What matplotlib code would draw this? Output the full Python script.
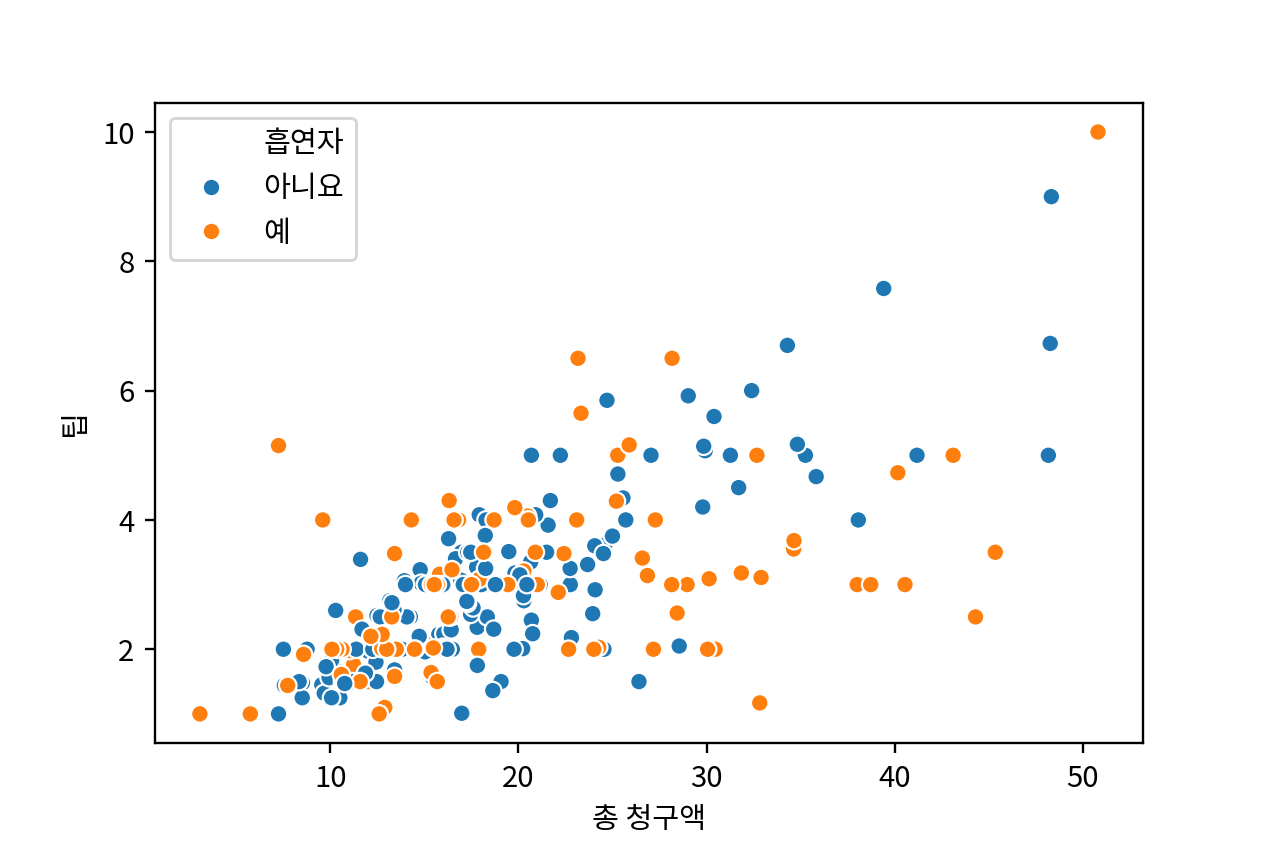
import matplotlib
matplotlib.use('Agg')
import matplotlib.pyplot as plt
from matplotlib.lines import Line2D

# tips data: total bill, tip, smoker (N = 아니요, Y = 예), in row order
total_bill = [
  16.99, 10.34, 21.01, 23.68, 24.59, 25.29, 8.77, 26.88, 15.04, 14.78,
  10.27, 35.26, 15.42, 18.43, 14.83, 21.58, 10.33, 16.29, 16.97, 20.65,
  17.92, 20.29, 15.77, 39.42, 19.82, 17.81, 13.37, 12.69, 21.7, 19.65,
  9.55, 18.35, 15.06, 20.69, 17.78, 24.06, 16.31, 16.93, 18.69, 31.27,
  16.04, 17.46, 13.94, 9.68, 30.4, 18.29, 22.23, 32.4, 28.55, 18.04,
  12.54, 10.29, 34.81, 9.94, 25.56, 19.49, 38.01, 26.41, 11.24, 48.27,
  20.29, 13.81, 11.02, 18.29, 17.59, 20.08, 16.45, 3.07, 20.23, 15.01,
  12.02, 17.07, 26.86, 25.28, 14.73, 10.51, 17.92, 27.2, 22.76, 17.29,
  19.44, 16.66, 10.07, 32.68, 15.98, 34.83, 13.03, 18.28, 24.71, 21.16,
  28.97, 22.49, 5.75, 16.32, 22.75, 40.17, 27.28, 12.03, 21.01, 12.46,
  11.35, 15.38, 44.3, 22.42, 20.92, 15.36, 20.49, 25.21, 18.24, 14.31,
  14.0, 7.25, 38.07, 23.95, 25.71, 17.31, 29.93, 10.65, 12.43, 24.08,
  11.69, 13.42, 14.26, 15.95, 12.48, 29.8, 8.52, 14.52, 11.38, 22.82,
  19.08, 20.27, 11.17, 12.26, 18.26, 8.51, 10.33, 14.15, 16.0, 13.16,
  17.47, 34.3, 41.19, 27.05, 16.43, 8.35, 18.64, 11.87, 9.78, 7.51,
  14.07, 13.13, 17.26, 24.55, 19.77, 29.85, 48.17, 25.0, 13.39, 16.49,
  21.5, 12.66, 16.21, 13.81, 17.51, 24.52, 20.76, 31.71, 10.59, 10.63,
  50.81, 15.81, 7.25, 31.85, 16.82, 32.9, 17.89, 14.48, 9.6, 34.63,
  34.65, 23.33, 45.35, 23.17, 40.55, 20.69, 20.9, 30.46, 18.15, 23.1,
  15.69, 19.81, 28.44, 15.48, 16.58, 7.56, 10.34, 43.11, 13.0, 13.51,
  18.71, 12.74, 13.0, 16.4, 20.53, 16.47, 26.59, 38.73, 24.27, 12.76,
  30.06, 25.89, 48.33, 13.27, 28.17, 12.9, 28.15, 11.59, 7.74, 30.14,
  12.16, 13.42, 8.58, 15.98, 13.42, 16.27, 10.09, 20.45, 13.28, 22.12,
  24.01, 15.69, 11.61, 10.77, 15.53, 10.07, 12.6, 32.83, 35.83, 29.03,
  27.18, 22.67, 17.82, 18.78]
tip = [
  1.01, 1.66, 3.5, 3.31, 3.61, 4.71, 2.0, 3.12, 1.96, 3.23,
  1.71, 5.0, 1.57, 3.0, 3.02, 3.92, 1.67, 3.71, 3.5, 3.35,
  4.08, 2.75, 2.23, 7.58, 3.18, 2.34, 2.0, 2.0, 4.3, 3.0,
  1.45, 2.5, 3.0, 2.45, 3.27, 3.6, 2.0, 3.07, 2.31, 5.0,
  2.24, 2.54, 3.06, 1.32, 5.6, 3.0, 5.0, 6.0, 2.05, 3.0,
  2.5, 2.6, 5.2, 1.56, 4.34, 3.51, 3.0, 1.5, 1.76, 6.73,
  3.21, 2.0, 1.98, 3.76, 2.64, 3.15, 2.47, 1.0, 2.01, 2.09,
  1.97, 3.0, 3.14, 5.0, 2.2, 1.25, 3.08, 4.0, 3.0, 2.71,
  3.0, 3.4, 1.83, 5.0, 2.03, 5.17, 2.0, 4.0, 5.85, 3.0,
  3.0, 3.5, 1.0, 4.3, 3.25, 4.73, 4.0, 1.5, 3.0, 1.5,
  2.5, 3.0, 2.5, 3.48, 4.08, 1.64, 4.06, 4.29, 3.76, 4.0,
  3.0, 1.0, 4.0, 2.55, 4.0, 3.5, 5.07, 1.5, 1.8, 2.92,
  2.31, 1.68, 2.5, 2.0, 2.52, 4.2, 1.48, 2.0, 2.0, 2.18,
  1.5, 2.83, 1.5, 2.0, 3.25, 1.25, 2.0, 2.0, 2.0, 2.75,
  3.5, 6.7, 5.0, 5.0, 2.3, 1.5, 1.36, 1.63, 1.73, 2.0,
  2.5, 2.0, 2.74, 2.0, 2.0, 5.14, 5.0, 3.75, 2.61, 2.0,
  3.5, 2.5, 2.0, 2.0, 3.0, 3.48, 2.24, 4.5, 1.61, 2.0,
  10.0, 3.16, 5.15, 3.18, 4.0, 3.11, 2.0, 2.0, 4.0, 3.55,
  3.68, 5.65, 3.5, 6.5, 3.0, 5.0, 3.5, 2.0, 3.5, 4.0,
  1.5, 4.19, 2.56, 2.02, 4.0, 1.44, 2.0, 5.0, 2.0, 2.0,
  4.0, 2.01, 2.0, 2.5, 4.0, 3.23, 3.41, 3.0, 2.03, 2.23,
  2.0, 5.16, 9.0, 2.5, 6.5, 1.1, 3.0, 1.5, 1.44, 3.09,
  2.2, 3.48, 1.92, 3.0, 1.58, 2.5, 2.0, 3.0, 2.72, 2.88,
  2.0, 3.0, 3.39, 1.47, 3.0, 1.25, 1.0, 1.17, 4.67, 5.92,
  2.0, 2.0, 1.75, 3.0]
smoker = list(
  'NNNNNNNNNN' 'NNNNNNNNNN' 'NNNNNNNNNN' 'NNNNNNNNNN' 'NNNNNNNNNN'
  'NNNNNNYNYN' 'YYYYNNNYNY' 'NNYYNNYNNN' 'YNNYNNNNNN' 'YNYYNYYYYN'
  'YYYYNYYYNY' 'NNNNNNNNNN' 'NNNNNNNNNN' 'NNNNNNNNYN' 'NNNNNNNNNN'
  'NNNNNNNNNN' 'NNNNYNNNYY' 'YYYYYYYYYY' 'YYYYYNYYYY' 'YYYYYNYYYY'
  'YYYYYYYYYY' 'YYNYYYYYYY' 'YYYNYYYNNY' 'YYNNYNYYNN' 'YYNN')

group_labels = {'N': '아니요', 'Y': '예'}
group_colors = {'N': '#1f77b4', 'Y': '#ff7f0e'}
legend_title = '흡연자'
x_label = '총 청구액'
y_label = '팁'

plt.rcParams['font.family'] = ['Noto Sans CJK KR', 'DejaVu Sans']
plt.rcParams['font.size'] = 10
plt.rcParams['axes.unicode_minus'] = False

fig = plt.figure(figsize=(6, 4.026), dpi=1264/6)
ax = fig.add_axes([0.1226, 0.1238, 0.7816, 0.7547])

ax.scatter(total_bill, tip, c=[group_colors[s] for s in smoker],
           s=36, edgecolors='white', linewidths=0.75)

handles = [Line2D([], [], linestyle='none', marker='', label=legend_title)]
for k in ['N', 'Y']:
  handles.append(Line2D([], [], linestyle='none', marker='o', markersize=6,
                        markerfacecolor=group_colors[k], markeredgecolor='white',
                        markeredgewidth=0.75, label=group_labels[k]))
ax.legend(handles=handles, loc='upper left')

ax.set_xticks([10, 20, 30, 40, 50])
ax.set_yticks([2, 4, 6, 8, 10])
ax.set_xlabel(x_label)
ax.set_ylabel(y_label)

fig.savefig('out.png', dpi=1264/6)
